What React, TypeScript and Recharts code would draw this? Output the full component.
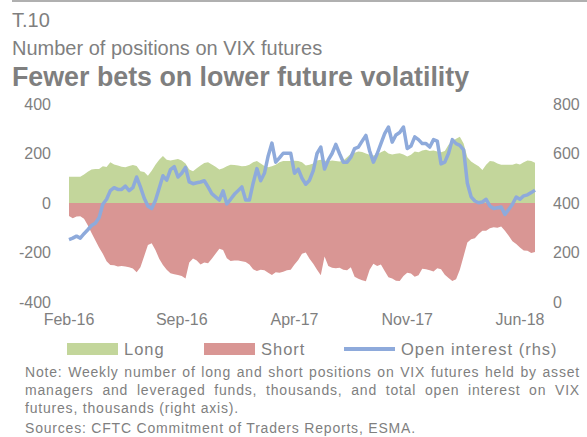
import React from "react";
import { ComposedChart, Area, Line, XAxis, YAxis } from "recharts";

// weekly positions, thousands (Feb-16 .. Jun-18)
const longPos = [
  106, 106, 106, 106, 115, 126, 135, 137, 137, 148,
  145, 165, 156, 152, 146, 144, 150, 154, 150, 128,
  125, 110, 130, 155, 175, 190, 175, 172, 175, 178,
  172, 160, 135, 128, 140, 152, 162, 165, 156, 146,
  135, 140, 148, 155, 154, 152, 148, 150, 155, 165,
  170, 160, 150, 144, 148, 155, 165, 170, 170, 170,
  171, 170, 165, 152, 155, 160, 172, 175, 172, 169,
  172, 170, 168, 172, 185, 199, 203, 208, 206, 200,
  195, 192, 196, 205, 212, 200, 196, 199, 201, 196,
  188, 195, 208, 205, 212, 215, 210, 212, 208, 205,
  210, 235, 250, 260, 268, 240, 185, 168, 158, 148,
  133, 155, 170, 168, 160, 155, 155, 155, 155, 160,
  156, 165, 172, 170, 163,
];

const shortPos = [
  -53, -62, -55, -54, -64, -90, -121, -150, -180, -205,
  -235, -250, -252, -257, -255, -257, -260, -265, -280, -260,
  -215, -170, -163, -190, -225, -250, -270, -284, -288, -291,
  -295, -305, -240, -224, -232, -248, -240, -243, -225, -205,
  -185, -190, -223, -234, -232, -232, -235, -238, -248, -268,
  -275, -270, -272, -282, -291, -280, -282, -278, -272, -270,
  -248, -230, -205, -200, -225, -245, -270, -292, -216, -255,
  -262, -264, -262, -270, -272, -260, -298, -306, -312, -316,
  -270, -245, -255, -248, -275, -300, -305, -314, -315, -295,
  -282, -285, -298, -292, -266, -268, -272, -277, -264, -268,
  -290, -303, -315, -308, -270, -215, -160, -146, -142, -125,
  -112, -112, -102, -98, -100, -95, -112, -132, -155, -166,
  -180, -192, -193, -202, -198,
];

const openInterest = [
  252, 258, 266, 258, 276, 292, 309, 318, 340, 395,
  415, 450, 462, 455, 455, 468, 450, 462, 505, 465,
  420, 388, 378, 410, 460, 510, 492, 535, 547, 505,
  520, 544, 485, 478, 482, 485, 490, 465, 438, 425,
  412, 449, 396, 415, 435, 450, 465, 412, 412, 480,
  539, 490, 520, 590, 642, 565, 582, 601, 601, 601,
  520, 537, 500, 476, 492, 531, 600, 626, 537, 574,
  600, 637, 599, 565, 565, 585, 620, 626, 650, 673,
  610, 565, 599, 640, 680, 707, 646, 675, 685, 707,
  620, 630, 667, 656, 640, 640, 626, 656, 650, 558,
  565, 601, 656, 640, 633, 615, 480, 425, 408, 401,
  404, 415, 388, 378, 381, 384, 354, 374, 395, 424,
  415, 429, 433, 442, 452,
];

const tickWeeks = [0, 30, 60, 90, 120];
const tickLabels = ["Feb-16", "Sep-16", "Apr-17", "Nov-17", "Jun-18"];
const leftTicks = [-400, -200, 0, 200, 400];
const rightTicks = [0, 200, 400, 600, 800];

const data = longPos.map((v, i) => ({
  week: i,
  long: v,
  short: shortPos[i],
  oi: openInterest[i],
}));

const GREEN = "#c3d69b";
const RED = "#d99694";
const BLUE = "#8eaadb";
const GREY = "#7f7f7f";
const FONT = "'Liberation Sans', Arial, sans-serif";

const tickStyle = { fill: GREY, fontSize: 16, fontFamily: FONT };

function Legend() {
  const item = (left: number, swatch: React.ReactNode, label: string) => (
    <div style={{ position: "absolute", left, top: 0, display: "flex", alignItems: "center", height: 20 }}>
      {swatch}
      <span style={{ marginLeft: 6, letterSpacing: 1 }}>{label}</span>
    </div>
  );
  const box = (c: string) => <div style={{ width: 51, height: 12, background: c }} />;
  return (
    <div style={{ position: "absolute", left: 0, top: 339, width: 587, height: 20, fontSize: 16.5, color: GREY }}>
      {item(67, box(GREEN), "Long")}
      {item(204, box(RED), "Short")}
      {item(344, <div style={{ width: 51, height: 4, background: BLUE }} />, "Open interest (rhs)")}
    </div>
  );
}

const noteLine = (top: number, text: string, justify: boolean) => (
  <div
    style={{
      position: "absolute",
      left: 25,
      top,
      width: 555,
      fontSize: 14,
      lineHeight: "18px",
      letterSpacing: 0.8,
      whiteSpace: "nowrap",
      textAlign: justify ? "justify" : "left",
      textAlignLast: justify ? "justify" : "left",
    }}
  >
    {text}
  </div>
);

export default function App() {
  return (
    <div
      style={{
        position: "absolute",
        left: 0,
        top: 0,
        width: 587,
        height: 437,
        background: "#fff",
        fontFamily: FONT,
        color: GREY,
        overflow: "hidden",
      }}
    >
      <div style={{ position: "absolute", left: 12, right: 0, top: 0, height: 2, background: "#b0b0b0" }} />
      <div style={{ position: "absolute", left: 12, top: 8, fontSize: 20, lineHeight: "24px" }}>T.10</div>
      <div style={{ position: "absolute", left: 12, top: 36, fontSize: 20, lineHeight: "24px" }}>
        Number of positions on VIX futures
      </div>
      <div style={{ position: "absolute", left: 12, top: 62, fontSize: 26.8, lineHeight: "30px", fontWeight: "bold" }}>
        Fewer bets on lower future volatility
      </div>

      <div style={{ position: "absolute", left: 0, top: 0 }}>
        <ComposedChart
          width={587}
          height={331}
          data={data}
          margin={{ top: 104, right: 5, left: 5, bottom: 0 }}
        >
          <XAxis
            dataKey="week"
            type="number"
            domain={[0, longPos.length - 1]}
            ticks={tickWeeks}
            tickFormatter={(v: number) => tickLabels[tickWeeks.indexOf(v)]}
            axisLine={false}
            tickLine={false}
            tickMargin={6}
            height={29}
            tick={tickStyle}
            interval={0}
          />
          <YAxis
            yAxisId="left"
            domain={[-400, 400]}
            ticks={leftTicks}
            axisLine={false}
            tickLine={false}
            width={64}
            tickMargin={12}
            tick={tickStyle}
            allowDataOverflow
          />
          <YAxis
            yAxisId="right"
            orientation="right"
            domain={[0, 800]}
            ticks={rightTicks}
            axisLine={false}
            tickLine={false}
            width={47}
            tickMargin={12}
            tick={{ ...tickStyle, textAnchor: "start" }}
          />
          <Area
            yAxisId="left"
            dataKey="long"
            type="linear"
            baseValue={0}
            fill={GREEN}
            fillOpacity={1}
            stroke="none"
            isAnimationActive={false}
          />
          <Area
            yAxisId="left"
            dataKey="short"
            type="linear"
            baseValue={0}
            fill={RED}
            fillOpacity={1}
            stroke="none"
            isAnimationActive={false}
          />
          <Line
            yAxisId="right"
            dataKey="oi"
            type="linear"
            stroke={BLUE}
            strokeWidth={3.5}
            dot={false}
            strokeLinejoin="round"
            isAnimationActive={false}
          />
        </ComposedChart>
      </div>

      <Legend />

      {noteLine(363, "Note: Weekly number of long and short positions on VIX futures held by asset", true)}
      {noteLine(381, "managers and leveraged funds, thousands, and total open interest on VIX", true)}
      {noteLine(399, "futures, thousands  (right axis).", false)}
      {noteLine(419, "Sources: CFTC Commitment of Traders Reports, ESMA.", false)}
    </div>
  );
}
